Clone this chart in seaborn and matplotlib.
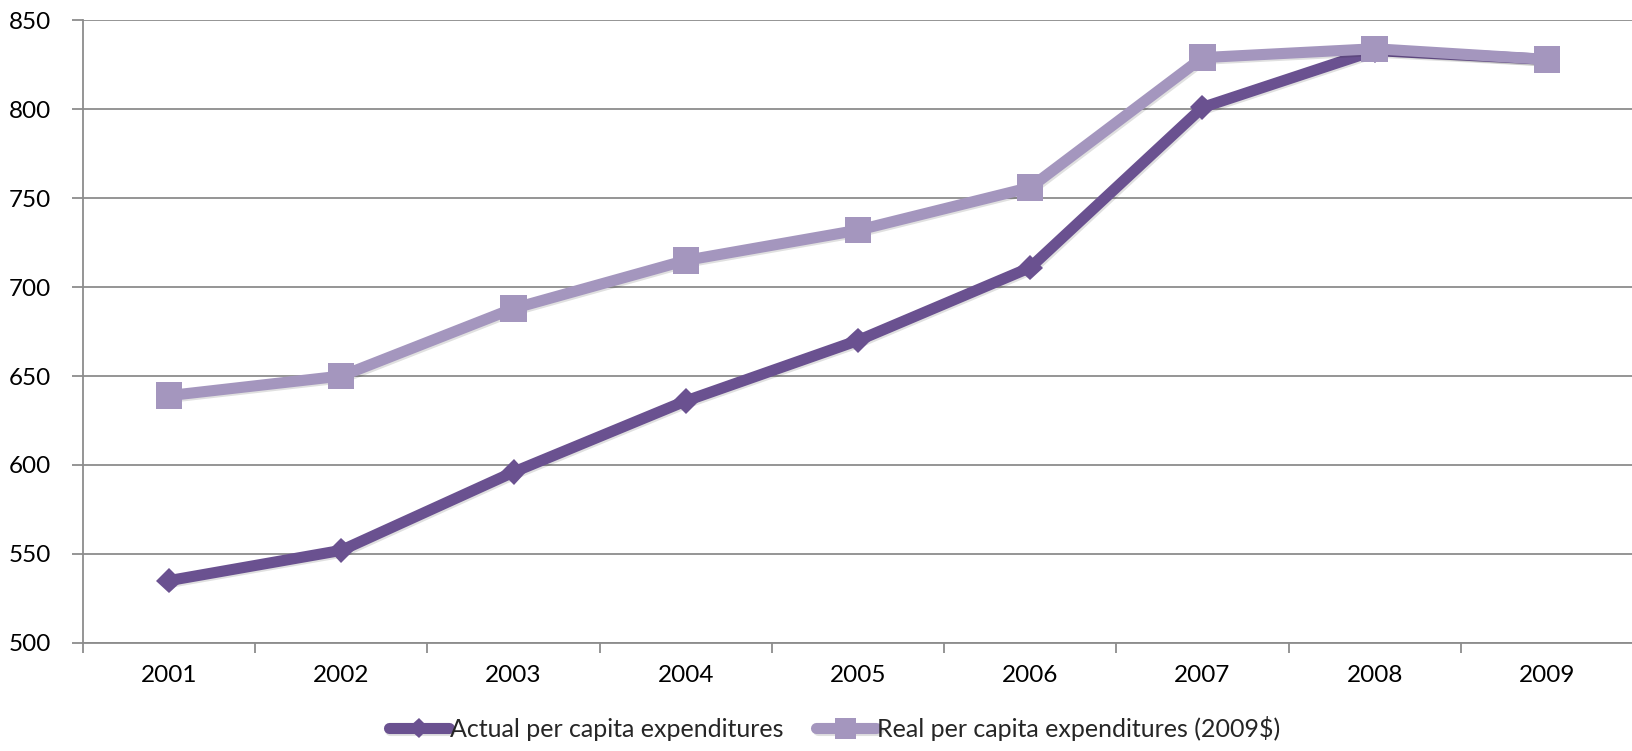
import matplotlib
matplotlib.use("Agg")
import matplotlib.pyplot as plt
import matplotlib.patheffects as pe
import seaborn as sns
import pandas as pd

years = ["2001", "2002", "2003", "2004", "2005", "2006", "2007", "2008", "2009"]
actual = [535, 552, 596, 636, 670, 711, 801, 833, 828]
real = [639, 650, 688, 715, 732, 756, 829, 834, 828]
series_names = ["Actual per capita expenditures", "Real per capita expenditures (2009$)"]

df = pd.DataFrame({
    "year": years * 2,
    "value": actual + real,
    "series": [series_names[0]] * len(years) + [series_names[1]] * len(years),
})

sns.set_theme(style="white")
plt.rcParams["font.family"] = ["Lato", "DejaVu Sans"]

fig = plt.figure(figsize=(16.33, 7.51), dpi=100)
ax = fig.add_axes([0.0508, 0.144, 0.9492, 0.829])

palette = {series_names[0]: "#6A5190", series_names[1]: "#A496BE"}
markers = {series_names[0]: "D", series_names[1]: "s"}
sizes = {series_names[0]: 13, series_names[1]: 19}

# a faint drop shadow under the markers
shadow = [pe.SimpleLineShadow(offset=(1.2, -1.2), alpha=0.12, shadow_color="black"), pe.Normal()]

for name in series_names:
    sub = df[df["series"] == name]
    sns.lineplot(data=sub, x="year", y="value", ax=ax, color=palette[name],
                 marker=markers[name], markersize=sizes[name], markeredgewidth=0,
                 linewidth=8, label=name, sort=False, path_effects=shadow)

ax.set_ylim(500, 850)
ax.set_yticks(range(500, 851, 50))
ax.set_xlim(-0.5, len(years) - 0.5)
ax.set_xlabel("")
ax.set_ylabel("")

ax.yaxis.grid(True, color="#8C8C8C", linewidth=1.3)
ax.xaxis.grid(False)
ax.set_axisbelow(True)

for s in ["top", "right"]:
    ax.spines[s].set_visible(False)
for s in ["left", "bottom"]:
    ax.spines[s].set_color("#8C8C8C")
    ax.spines[s].set_linewidth(1.3)

# tick marks sit between categories on the x axis
ax.set_xticks(range(len(years)))
ax.set_xticklabels(years)
ax.set_xticks([i - 0.5 for i in range(len(years) + 1)], minor=True)
ax.tick_params(axis="x", which="major", length=0, pad=16, labelsize=17.5, labelcolor="black")
ax.tick_params(axis="x", which="minor", length=7, width=1.3, color="#8C8C8C", direction="out", bottom=True)
ax.tick_params(axis="y", which="major", length=8, width=1.3, color="#8C8C8C", direction="out",
               left=True, pad=15, labelsize=17.5, labelcolor="black")

handles, labels = ax.get_legend_handles_labels()
ax.get_legend().remove()
fig.legend(handles, labels, loc="center", bbox_to_anchor=(0.511, 0.03),
           ncol=2, frameon=False, fontsize=18, handlelength=2.4, handletextpad=0.05,
           columnspacing=1.3, markerscale=0.8)

fig.savefig("out.png", dpi=100)
